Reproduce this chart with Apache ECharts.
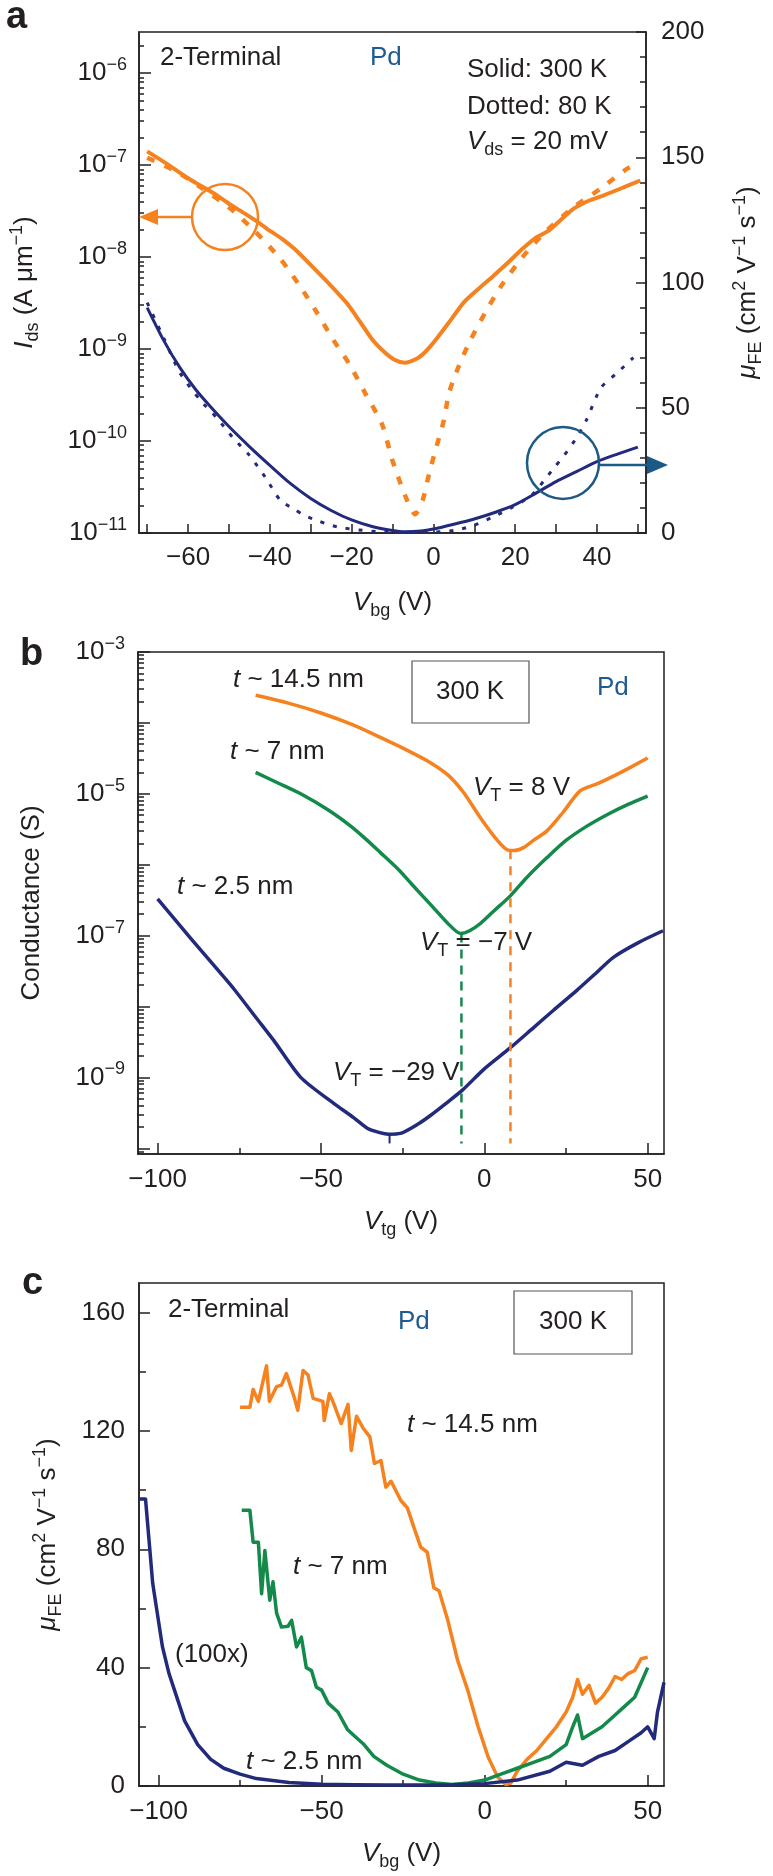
<!DOCTYPE html>
<html><head><meta charset="utf-8">
<script src="https://cdn.jsdelivr.net/npm/echarts/dist/echarts.min.js"></script>
<style>html,body{margin:0;padding:0;background:#fff}#c{width:773px;height:1876px}</style>
</head><body><div id="c"></div>
<script>
// ---------- Panel a : Ids (left, log) and mobility (right) vs Vbg ----------
const aIds300 = [[-70,1.41e-7],[-65,1.02e-7],[-60,7.2e-8],[-57,6.0e-8],[-53,4.7e-8],[-50,3.8e-8],[-46,2.95e-8],[-43.5,2.5e-8],[-40.5,2.0e-8],[-37,1.58e-8],[-34,1.23e-8],[-31,9.1e-9],[-26,5.4e-9],[-21.3,3.2e-9],[-18,2.0e-9],[-14.9,1.26e-9],[-12,9.3e-10],[-9.4,7.6e-10],[-7,7.1e-10],[-4,7.9e-10],[-2,9.3e-10],[0.2,1.2e-9],[4,2.0e-9],[7.4,3.2e-9],[11,4.5e-9],[14.6,6.2e-9],[18,8.5e-9],[21.8,1.23e-8],[25,1.62e-8],[28.3,1.95e-8],[31,2.5e-8],[34.5,3.4e-8],[38,4.1e-8],[41.7,4.7e-8],[46,5.6e-8],[50.6,6.8e-8]];
const aIds80 = [[-70,1.2e-7],[-62.8,8.5e-8],[-56.6,5.6e-8],[-50.1,3.5e-8],[-43.6,1.9e-8],[-37.4,9.5e-9],[-32.6,4.8e-9],[-28.5,2.5e-9],[-24.5,1.26e-9],[-20.6,6.9e-10],[-16.5,3.2e-10],[-12.5,1.5e-10],[-10.1,6.3e-11],[-6.5,2.3e-11],[-4.5,1.6e-11],[-2.6,2.3e-11],[-1,4.5e-11],[0.7,8.5e-11],[2.6,1.7e-10],[3.8,3.3e-10],[6.2,6.5e-10],[9.1,1.26e-9],[12.7,2.5e-9],[16.5,4.8e-9],[21.8,1.0e-8],[27.3,1.86e-8],[34,3.4e-8],[41,5.6e-8],[47,8.9e-8],[50,1.05e-7]];
const aMu300 = [[-70,90],[-66,77],[-62,66],[-58,57],[-54,49.5],[-50,42.5],[-45,34.5],[-40,27],[-35,19.8],[-30,13.8],[-25,9],[-20,5.2],[-15,2.6],[-10,1],[-7,0.5],[-3,0.8],[0,1.6],[5,3.5],[10,5.6],[15,8.2],[20,11.3],[25,15.8],[30,20.5],[35,24.5],[40,28.5],[45,31.5],[50,34.3]];
const aMu80 = [[-70,92],[-66,78],[-62,64],[-57,53],[-53,46],[-49,38],[-45,31],[-41,22],[-37.4,13],[-34,9.5],[-31.6,7],[-28,4.8],[-25.4,3.2],[-22,2],[-18.2,1.2],[-14,0.6],[-10,0.3],[-5,0.2],[0,0.3],[5,1],[9.8,3],[14.6,6.4],[19,10],[24,15],[27.1,21],[29.5,26],[32,31],[35,38],[37.4,45],[41,58],[45,64],[48.9,70]];
const aXTicks = [-70,-60,-50,-40,-30,-20,-10,0,10,20,30,40,50];
const aXLabels = [-60,-40,-20,0,20,40];
const aYLabels = [1e-11,1e-10,1e-9,1e-8,1e-7,1e-6];
const aRTicks = [0,50,100,150,200];
const aRMinor = [10,20,30,40,60,70,80,90,110,120,130,140,160,170,180,190];

// ---------- Panel b : conductance vs Vtg ----------
const b145 = [[-70,2.45e-4],[-60,1.9e-4],[-50,1.38e-4],[-40,9.3e-5],[-32,6.3e-5],[-24,4.2e-5],[-16.5,2.75e-5],[-11,1.82e-5],[-6.4,1.05e-5],[-1.2,4.6e-6],[4,2.2e-6],[7,1.62e-6],[9,1.58e-6],[12,1.74e-6],[15,2.2e-6],[19.2,3.0e-6],[24,5.4e-6],[29.3,1.1e-5],[34.5,1.38e-5],[40,1.82e-5],[45,2.4e-5],[50,3.2e-5]];
const b7 = [[-70,2.0e-5],[-63,1.41e-5],[-56.2,1.0e-5],[-48,6.0e-6],[-40.9,3.5e-6],[-36,2.24e-6],[-31.8,1.48e-6],[-26,8.3e-7],[-21.7,5.0e-7],[-16,2.6e-7],[-11.3,1.51e-7],[-7.3,1.07e-7],[-4.5,1.17e-7],[-1.2,1.48e-7],[3,2.24e-7],[7.9,3.6e-7],[13,6.6e-7],[19.2,1.26e-6],[25,2.2e-6],[31.4,3.5e-6],[38,5.2e-6],[44,7.1e-6],[50,9.3e-6]];
const b25 = [[-100,3.3e-7],[-90,9.3e-8],[-80,2.7e-8],[-76.7,1.78e-8],[-70,7.1e-9],[-64.4,3.3e-9],[-56.2,1.0e-9],[-46.1,4.3e-10],[-40,2.7e-10],[-35.7,1.9e-10],[-32,1.66e-10],[-29.3,1.58e-10],[-25.7,1.62e-10],[-20,2.24e-10],[-16.5,2.9e-10],[-12,4.2e-10],[-6.7,6.6e-10],[0,1.32e-9],[7.9,2.6e-9],[15,5.0e-9],[21,8.7e-9],[28.4,1.7e-8],[34,2.9e-8],[39.4,4.9e-8],[47,7.9e-8],[54.7,1.17e-7]];
const bVT8 = [[8,1.6e-6],[8,1.17e-10]];
const bVTm7 = [[-7,1.07e-7],[-7,1.17e-10]];
const bVTm29 = [[-29,1.58e-10],[-29,1.17e-10]];
const bXTicks = [-100,-50,0,50];
const bXMinor = [-75,-25,25];
const bYTicks = [1e-10,1e-9,1e-8,1e-7,1e-6,1e-5,1e-4,1e-3];
const bYLabels = [1e-9,1e-7,1e-5,1e-3];

// ---------- Panel c : mobility vs Vbg ----------
const c145 = [[-75,128],[-72,128],[-71,134],[-69.4,130],[-66.9,142],[-66,130],[-63.8,135],[-62.3,135.5],[-60.8,139.4],[-58.3,131],[-57.3,127],[-55.7,140.4],[-54.2,139],[-52.6,131],[-49.6,130],[-49.2,123.5],[-47.6,132.6],[-46.2,129],[-44,122.5],[-41.9,129],[-40.9,113.4],[-39.3,125],[-37.3,121],[-35.2,118],[-33.8,109],[-31.8,110],[-30.3,101],[-28.7,103],[-25.7,96.5],[-23.7,94],[-21.7,87.4],[-19.6,80.7],[-17.6,79],[-15.6,67],[-14,66],[-11.3,56],[-8.3,42.5],[-5.2,32.4],[-2,20],[1,10],[4,3],[6.5,0.5],[8,1],[10,5],[13,9],[16,12],[19,16],[22,20],[25,25],[27,30],[28.5,36],[30,31],[32,34],[34,28],[36,30],[38,33],[40,37],[42,36],[44,38],[46,39],[48,43],[50,43.5]];
const c7 = [[-74.5,93.2],[-72,93.2],[-71,82.4],[-69.4,82.4],[-68.4,65],[-67.4,79.6],[-65.9,62.8],[-64.9,69],[-63.8,58.4],[-62.3,53.7],[-60.3,54],[-59.2,56],[-57.7,47],[-56.2,50.3],[-54.7,40],[-53.1,39],[-51.6,33.4],[-50,32.4],[-48,28],[-45,25],[-42,19],[-40,17],[-37,14],[-34,10],[-30,7],[-25,4],[-20,2],[-15,1],[-10,0.5],[-5,1],[0,2],[5,4],[10,6],[15,8],[20,10],[25,14],[27,20],[28.5,24],[30,16],[33,18],[36,20],[40,24],[43,27],[46,30],[48,35],[50,40]];
const c25 = [[-106,97],[-104,97],[-101.8,68.5],[-98.8,47],[-96.8,38],[-95.3,33],[-92,22],[-88,14],[-84,9],[-80,6],[-75,4],[-70,2.5],[-60,1.2],[-50,0.6],[-40,0.4],[-30,0.3],[-20,0.3],[-10,0.4],[0,0.8],[10,2],[20,5],[25,8],[30,7],[35,10],[40,12],[44,15],[48,18],[50,20],[52,16],[53,25],[55,35]];
const cYTicks = [0,40,80,120,160];
const cYMinor = [20,60,100,140];

// ---------- styling ----------
const FONT = '"Liberation Sans", Arial, Helvetica, sans-serif';
const INK = '#231f20';
const ORANGE = '#f5821f', NAVY = '#222a7c', GREEN = '#138a4a', PDBLUE = '#1f5b8f', CIRCBLUE = '#1b5a86';
const FS = 26, SFS = 18, LH = 34;
const rich = {
  i: {fontStyle:'italic', fontSize:FS, fontFamily:FONT, color:INK, fill:INK},
  s: {fontSize:SFS, verticalAlign:'top', fontFamily:FONT, color:INK, fill:INK},
  b: {fontSize:SFS, verticalAlign:'bottom', fontFamily:FONT, color:INK, fill:INK}
};
function expLabel(v){ const e = Math.round(Math.log10(v)); return '10{s|' + (e<0?'\u2212':'') + Math.abs(e) + '}'; }
function minorLog(lo, hi){ const out=[]; for(let k=lo;k<=hi;k++){ for(const m of [2,3,4,5,6,7,8,9]){ out.push(m*Math.pow(10,k)); } } return out; }
const lineAx = {show:true, onZero:false, lineStyle:{color:INK, width:1.5}};
const noLine = {show:false, onZero:false};
const lbl = (vals, extra) => Object.assign({show:true, customValues:vals, fontSize:FS, fontFamily:FONT, color:INK}, extra||{});
const tck = (vals, len) => ({show:true, inside:true, customValues:vals, length:len, lineStyle:{color:INK, width:1.5}});
const hidden = {show:false};
const nameStyle = {fontSize:FS, fontFamily:FONT, color:INK, lineHeight:LH, rich:rich};
const minus = v => String(v).replace('-','\u2212');

const grids = [
  {left:139, top:32, width:516, height:501, show:true, borderColor:INK, borderWidth:1.5},
  {left:138, top:652, width:526, height:502, show:true, borderColor:INK, borderWidth:1.5},
  {left:139, top:1283, width:525, height:503, show:true, borderColor:INK, borderWidth:1.5}
];

const xAxes = [
  {gridIndex:0, type:'value', position:'bottom', min:-72, max:52, axisLine:lineAx, axisTick:tck(aXTicks,9), axisLabel:lbl(aXLabels,{margin:12, formatter:minus}), splitLine:hidden,
   name:'{i|V}{b|bg} (V)', nameLocation:'middle', nameGap:53, nameTextStyle:nameStyle},
  {gridIndex:1, type:'value', position:'bottom', min:-106, max:55, axisLine:lineAx, axisTick:tck(bXTicks,11), axisLabel:lbl(bXTicks,{margin:13, formatter:minus}), splitLine:hidden,
   name:'{i|V}{b|tg} (V)', nameLocation:'middle', nameGap:51, nameTextStyle:nameStyle},
  {gridIndex:2, type:'value', position:'bottom', min:-106, max:55, axisLine:lineAx, axisTick:tck(bXTicks,11), axisLabel:lbl(bXTicks,{margin:13, formatter:minus}), splitLine:hidden,
   name:'{i|V}{b|bg} (V)', nameLocation:'middle', nameGap:51, nameTextStyle:nameStyle},
  {gridIndex:1, type:'value', position:'bottom', min:-106, max:55, axisLine:noLine, axisTick:tck(bXMinor,6), axisLabel:hidden, splitLine:hidden},
  {gridIndex:2, type:'value', position:'bottom', min:-106, max:55, axisLine:noLine, axisTick:tck(bXMinor,6), axisLabel:hidden, splitLine:hidden}
];

const yAxes = [
  {gridIndex:0, type:'log', min:1e-11, max:2.8e-6, position:'left', axisLine:lineAx, axisTick:tck(aYLabels,12),
   axisLabel:lbl(aYLabels,{margin:12, formatter:expLabel, lineHeight:LH, rich:rich}), splitLine:hidden,
   name:'{i|I}{b|ds} (A \u03bcm{s|\u22121})', nameLocation:'middle', nameGap:97, nameTextStyle:nameStyle},
  {gridIndex:0, type:'value', min:0, max:200, position:'right', axisLine:lineAx, axisTick:tck(aRTicks,10),
   axisLabel:lbl(aRTicks,{margin:15}), splitLine:hidden,
   name:'{i|\u03bc}{b|FE} (cm{s|2} V{s|\u22121} s{s|\u22121})', nameLocation:'middle', nameGap:85, nameTextStyle:nameStyle},
  {gridIndex:1, type:'log', min:8.3e-11, max:1e-3, position:'left', axisLine:lineAx, axisTick:tck(bYTicks,12),
   axisLabel:lbl(bYLabels,{margin:13, formatter:expLabel, lineHeight:LH, rich:rich}), splitLine:hidden,
   name:'Conductance (S)', nameLocation:'middle', nameGap:89, nameTextStyle:nameStyle},
  {gridIndex:2, type:'value', min:0, max:170, position:'left', axisLine:lineAx, axisTick:tck(cYTicks,11),
   axisLabel:lbl(cYTicks,{margin:14}), splitLine:hidden,
   name:'{i|\u03bc}{b|FE} (cm{s|2} V{s|\u22121} s{s|\u22121})', nameLocation:'middle', nameGap:74, nameTextStyle:nameStyle},
  {gridIndex:0, type:'log', min:1e-11, max:2.8e-6, position:'left', axisLine:noLine, axisTick:tck(minorLog(-11,-7).concat([2e-6]),5), axisLabel:hidden, splitLine:hidden},
  {gridIndex:0, type:'value', min:0, max:200, position:'right', axisLine:noLine, axisTick:tck(aRMinor,6), axisLabel:hidden, splitLine:hidden},
  {gridIndex:1, type:'log', min:8.3e-11, max:1e-3, position:'left', axisLine:noLine, axisTick:tck(minorLog(-11,-4).filter(v=>v>8.3e-11 && v<1e-3),6), axisLabel:hidden, splitLine:hidden},
  {gridIndex:2, type:'value', min:0, max:170, position:'left', axisLine:noLine, axisTick:tck(cYMinor,7), axisLabel:hidden, splitLine:hidden}
];

function ln(data, xi, yi, color, width, type, smooth){
  return {type:'line', xAxisIndex:xi, yAxisIndex:yi, data:data, showSymbol:false, symbol:'none', smooth:smooth||false,
    lineStyle:{color:color, width:width, type:type||'solid', cap:'butt', join:'round'}, silent:true, animation:false, z:3};
}
const series = [
  ln(aMu80, 0, 1, NAVY, 3, [4,9], 0.25),
  ln(aMu300, 0, 1, NAVY, 3, 'solid', 0.25),
  ln(aIds80, 0, 0, ORANGE, 4.5, [8,11], 0.25),
  ln(aIds300, 0, 0, ORANGE, 4, 'solid', 0.25),
  ln(b145, 1, 2, ORANGE, 3.5, 'solid', 0.25),
  ln(b7, 1, 2, GREEN, 3.5, 'solid', 0.25),
  ln(b25, 1, 2, NAVY, 3.5, 'solid', 0.25),
  ln(bVT8, 1, 2, ORANGE, 2.5, [9,7]),
  ln(bVTm7, 1, 2, GREEN, 2.5, [9,7]),
  ln(bVTm29, 1, 2, NAVY, 2, 'solid'),
  ln(c145, 2, 3, ORANGE, 3.5, 'solid'),
  ln(c7, 2, 3, GREEN, 3.5, 'solid'),
  ln(c25, 2, 3, NAVY, 3.5, 'solid')
];

function txt(x, y, text, opts){
  return {type:'text', z:10, style:Object.assign({x:x, y:y, text:text, fill:INK, font:FS+'px '+FONT, lineHeight:LH, textVerticalAlign:'middle', textAlign:'left', rich:rich}, opts||{})};
}
const graphic = [
  txt(6, 18, 'a', {font:'bold 38px '+FONT}),
  txt(160, 58, '2-Terminal'),
  txt(370, 58, 'Pd', {fill:PDBLUE}),
  txt(467, 70, 'Solid: 300 K'),
  txt(467, 107, 'Dotted: 80 K'),
  txt(467, 142, '{i|V}{b|ds} = 20 mV'),
  {type:'circle', z:9, shape:{cx:225, cy:217, r:33}, style:{fill:'none', stroke:ORANGE, lineWidth:2.5}},
  {type:'line', z:9, shape:{x1:192, y1:217, x2:155, y2:217}, style:{stroke:ORANGE, lineWidth:2.5}},
  {type:'polygon', z:9, shape:{points:[[139,217],[158,209],[158,225]]}, style:{fill:ORANGE}},
  {type:'circle', z:9, shape:{cx:563, cy:463, r:36}, style:{fill:'none', stroke:CIRCBLUE, lineWidth:2.5}},
  {type:'line', z:9, shape:{x1:599, y1:465, x2:650, y2:465}, style:{stroke:CIRCBLUE, lineWidth:2.5}},
  {type:'polygon', z:9, shape:{points:[[668,465],[647,456],[647,474]]}, style:{fill:CIRCBLUE}},

  txt(20, 655, 'b', {font:'bold 38px '+FONT}),
  txt(233, 680, '{i|t} ~ 14.5 nm'),
  {type:'rect', z:9, shape:{x:412, y:661, width:117, height:62}, style:{fill:'none', stroke:'#555', lineWidth:1.2}},
  txt(470, 692, '300 K', {textAlign:'center'}),
  txt(597, 688, 'Pd', {fill:PDBLUE}),
  txt(230, 752, '{i|t} ~ 7 nm'),
  txt(177, 887, '{i|t} ~ 2.5 nm'),
  txt(473, 788, '{i|V}{b|T} = 8 V'),
  txt(420, 943, '{i|V}{b|T} = \u22127 V'),
  txt(333, 1073, '{i|V}{b|T} = \u221229 V'),

  txt(22, 1284, 'c', {font:'bold 38px '+FONT}),
  txt(168, 1310, '2-Terminal'),
  txt(398, 1322, 'Pd', {fill:PDBLUE}),
  {type:'rect', z:9, shape:{x:514, y:1291, width:118, height:63}, style:{fill:'none', stroke:'#555', lineWidth:1.2}},
  txt(573, 1322, '300 K', {textAlign:'center'}),
  txt(407, 1425, '{i|t} ~ 14.5 nm'),
  txt(293, 1567, '{i|t} ~ 7 nm'),
  txt(175, 1655, '(100x)'),
  txt(246, 1762, '{i|t} ~ 2.5 nm')
];

const chart = echarts.init(document.getElementById('c'), null, {renderer:'canvas'});
chart.setOption({
  backgroundColor:'#fff', animation:false,
  textStyle:{fontFamily:FONT},
  grid:grids, xAxis:xAxes, yAxis:yAxes, series:series, graphic:graphic
});
</script></body></html>
